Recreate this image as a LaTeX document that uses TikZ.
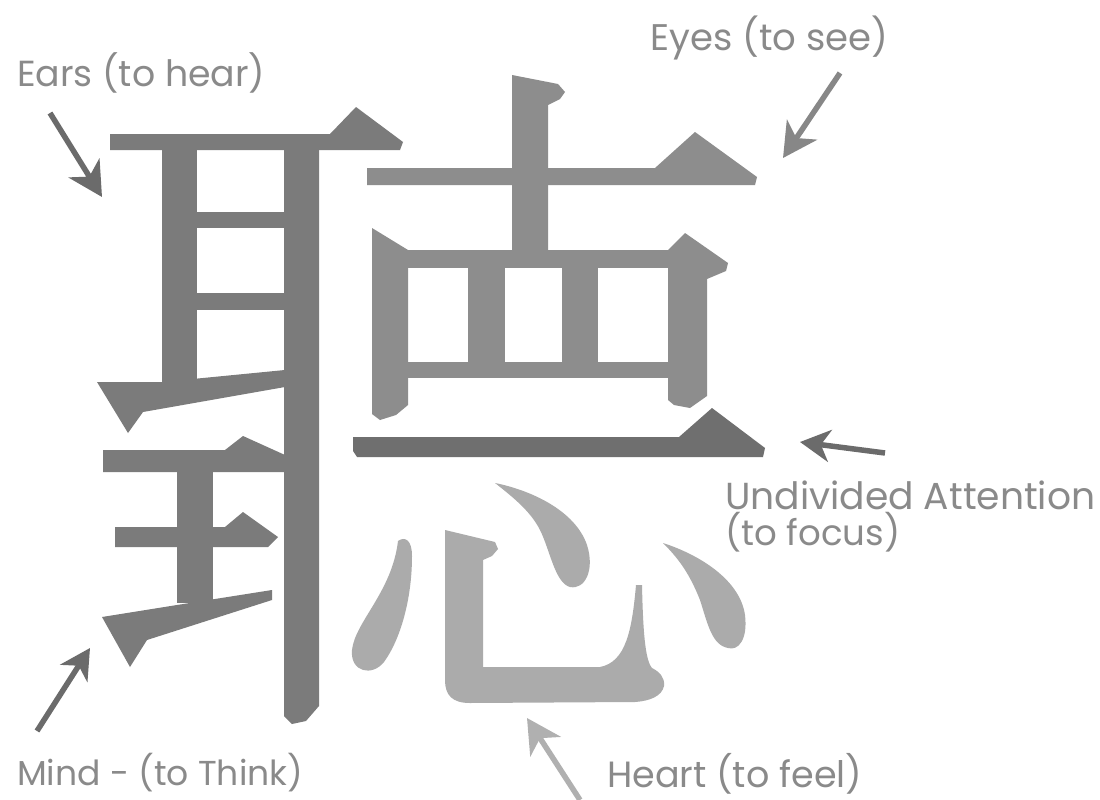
\documentclass[tikz,border=0pt]{standalone}
\usepackage{fontspec}
\setmainfont{Poppins}
\usepackage{graphicx}
\usetikzlibrary{arrows.meta}
\definecolor{earc}{HTML}{7B7B7B}
\definecolor{eyec}{HTML}{8D8D8D}
\definecolor{onec}{HTML}{6F6F6F}
\definecolor{heartc}{HTML}{ABABAB}
\definecolor{labc}{HTML}{8A8A8A}
\definecolor{arrdark}{HTML}{6B6B6B}
\definecolor{arrmid}{HTML}{878787}
\definecolor{arrlight}{HTML}{B0B0B0}
\begin{document}
\begin{tikzpicture}[x=1pt,y=-1pt,
  labeltext/.style={text=labc, inner sep=0pt, anchor=base west, font=\fontsize{30}{36}\selectfont},
  pointer/.style={line width=5.5pt, -{Stealth[length=34pt,width=36pt,inset=10pt]}},
  earpart/.style={fill=earc},
  eyepart/.style={fill=eyec},
  onepart/.style={fill=onec},
  heartpart/.style={fill=heartc}]
\useasboundingbox (0,0) rectangle (1100,800);
\fill[white] (0,0) rectangle (1100,800);

% ---------- Ear (left part) ----------
\fill[earpart] (110,134) -- (330,134) -- (356,107) -- (403,142) -- (400,150) -- (110,150) -- cycle;
\fill[earpart] (162,150) rectangle (197,383);
\fill[earpart] (197,212) rectangle (285,228);
\fill[earpart] (197,293) rectangle (285,310);
\fill[earpart] (284,140) -- (319,140) -- (319,706) -- (306,721) -- (292,724) -- (284,716) -- cycle;
\fill[earpart] (97,382) -- (162,382) -- (285,370) -- (285,387) -- (143,412) -- (128,433) -- cycle;
% king part
\fill[earpart] (103,450) -- (225,450) -- (243,436) -- (285,455) -- (285,472) -- (103,472) -- cycle;
\fill[earpart] (177,470) rectangle (213,603);
\fill[earpart] (115,527) -- (225,527) -- (243,512) -- (278,537) -- (268,547) -- (115,547) -- cycle;
\fill[earpart] (102,617) -- (177,605) -- (272,590) -- (272,600) -- (147,640) -- (130,667) -- cycle;

% ---------- Eyes (upper right) ----------
\fill[eyepart] (512,75) -- (558,84) -- (565,92) -- (560,99) -- (548,105) -- (548,253) -- (512,253) -- cycle;
\fill[eyepart] (367,168) -- (655,168) -- (695,132) -- (757,177) -- (755,185) -- (367,185) -- cycle;
\fill[eyepart] (372,228) -- (408,250) -- (408,405) -- (396,415) -- (380,420) -- (372,414) -- cycle;
\fill[eyepart] (408,250) rectangle (668,268);
\fill[eyepart] (668,250) -- (685,233) -- (728,263) -- (726,271) -- (707,279) -- (707,396) -- (690,408) -- (674,405) -- (668,400) -- cycle;
\fill[eyepart] (468,268) rectangle (505,362);
\fill[eyepart] (562,268) rectangle (598,362);
\fill[eyepart] (408,362) rectangle (668,378);

% ---------- One (undivided) ----------
\fill[onepart] (353,437) -- (679,437) -- (712,408) -- (765,448) -- (763,457) -- (357,457) -- (353,451) -- cycle;

% ---------- Heart ----------
\fill[heartpart] (398,541) .. controls (405,536) and (412,540) .. (412,556)
  .. controls (412,600) and (400,640) .. (384,662)
  .. controls (372,677) and (350,672) .. (352,650)
  .. controls (355,622) and (392,592) .. (398,541) -- cycle;
\fill[heartpart] (445,530) -- (495,542) -- (498,549) -- (492,556) -- (483,560) -- (483,667) -- (600,667)
  .. controls (626,662) and (632,630) .. (636,585) -- (642,585)
  .. controls (643,630) and (645,660) .. (652,668)
  .. controls (660,672) and (665,678) .. (664,686)
  .. controls (662,696) and (650,701) .. (635,702) -- (470,703)
  .. controls (452,703) and (445,695) .. (445,680) -- cycle;
\fill[heartpart] (495,483) .. controls (530,490) and (575,510) .. (587,545)
  .. controls (595,570) and (585,590) .. (570,587)
  .. controls (555,583) and (550,550) .. (540,530)
  .. controls (530,510) and (510,495) .. (495,483) -- cycle;
\fill[heartpart] (663,543) .. controls (700,555) and (740,580) .. (745,615)
  .. controls (748,640) and (738,651) .. (728,648)
  .. controls (712,645) and (708,625) .. (700,600)
  .. controls (690,575) and (680,560) .. (663,543) -- cycle;

% ---------- Labels ----------
\node[labeltext] (ears) at (17,86) {\resizebox{248pt}{!}{Ears (to hear)}};
\node[labeltext] (eyes) at (650,50) {\resizebox{238pt}{!}{Eyes (to see)}};
\node[labeltext, align=left] (focus) at (725,545) {\resizebox{370pt}{!}{Undivided Attention}\\\resizebox{175pt}{!}{(to focus)}};
\node[labeltext] (mind) at (17,785) {\resizebox{286pt}{!}{Mind - (to Think)}};
\node[labeltext] (heart) at (607,787) {\resizebox{255pt}{!}{Heart (to feel)}};

% ---------- Pointers ----------
\coordinate (earsT) at (50,113);   \coordinate (earsH) at (102,197);
\coordinate (eyesT) at (840,73);   \coordinate (eyesH) at (783,158);
\coordinate (focusT) at (885,453); \coordinate (focusH) at (800,442);
\coordinate (mindT) at (37,731);   \coordinate (mindH) at (90,648);
\coordinate (heartT) at (580,800); \coordinate (heartH) at (527,718);
\draw[pointer, arrdark] (earsT) -- (earsH);
\draw[pointer, arrmid] (eyesT) -- (eyesH);
\draw[pointer, arrdark, -{Stealth[length=30pt,width=32pt,inset=9pt]}] (focusT) -- (focusH);
\draw[pointer, arrdark, -{Stealth[length=30pt,width=32pt,inset=9pt]}] (mindT) -- (mindH);
\draw[pointer, arrlight] (heartT) -- (heartH);
\end{tikzpicture}
\end{document}
